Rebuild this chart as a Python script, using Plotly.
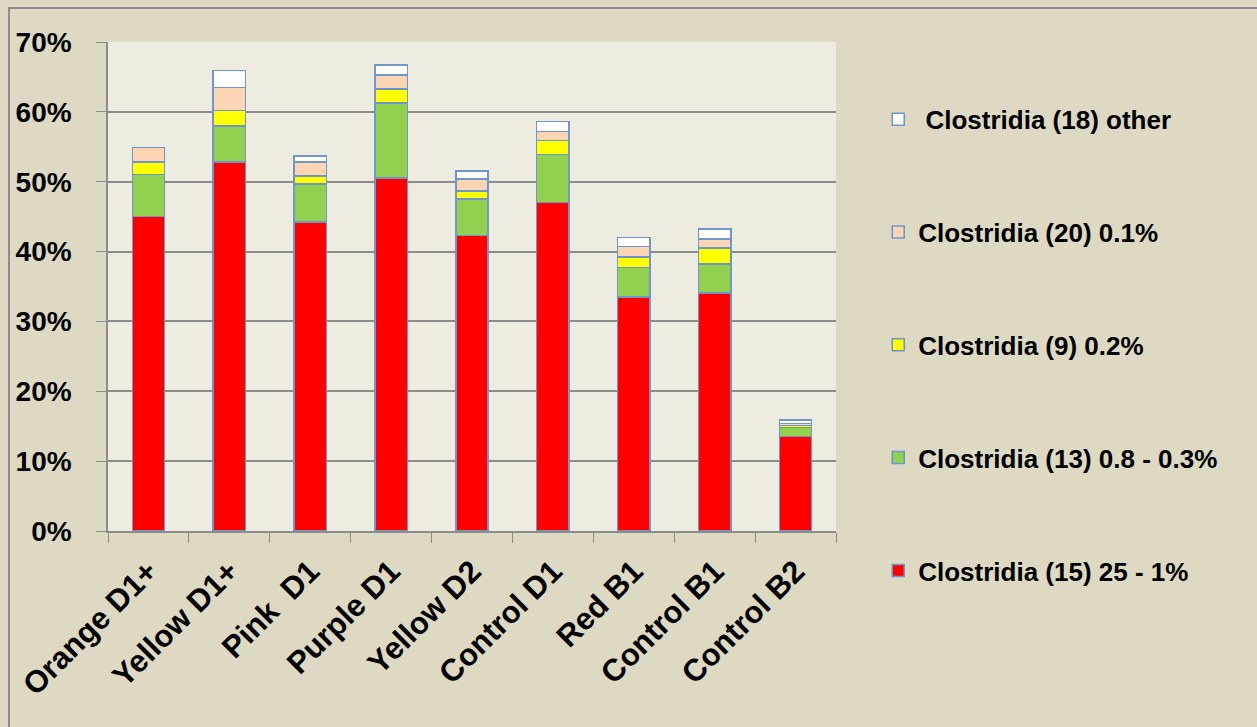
import plotly.graph_objects as go

# samples along the x axis
samples = ["Orange D1+", "Yellow D1+", "Pink  D1", "Purple D1", "Yellow D2",
           "Control D1", "Red B1", "Control B1", "Control B2"]

# stacked segments, % of reads (bottom to top)
clos15 = [45.0, 52.8, 44.2, 50.5, 42.3, 47.0, 33.5, 34.1, 13.5]
clos13 = [6.0, 5.2, 5.5, 10.8, 5.2, 6.9, 4.2, 4.1, 1.3]
clos9 = [1.8, 2.2, 1.1, 2.0, 1.2, 2.0, 1.5, 2.3, 0.3]
clos20 = [2.1, 3.3, 2.0, 2.0, 1.7, 1.3, 1.5, 1.3, 0.3]
clos18 = [0.0, 2.4, 0.9, 1.4, 1.1, 1.4, 1.3, 1.4, 0.5]

series = [
    ("Clostridia (15) 25 - 1%", clos15, "#FF0000"),
    ("Clostridia (13) 0.8 - 0.3%", clos13, "#92D050"),
    ("Clostridia (9) 0.2%", clos9, "#FFFF00"),
    ("Clostridia (20) 0.1%", clos20, "#FCD5B5"),
    ("\u00a0Clostridia (18) other", clos18, "#FFFFFF"),
]

fig = go.Figure()
for i, (name, vals, col) in enumerate(series):
    fig.add_trace(go.Bar(
        x=samples, y=vals, name=name, legendgroup=str(i),
        legendrank=len(series) - i,
        marker=dict(color=col, line=dict(color="#7096C8", width=1.5)),
    ))

FAMILY = "Liberation Sans, Arial, sans-serif"

fig.update_layout(
    barmode="stack",
    bargap=0.6,
    width=1257, height=727,
    margin=dict(l=108, r=421, t=42, b=196),
    paper_bgcolor="#DDD9C3",
    plot_bgcolor="#EEECE1",
    font=dict(family=FAMILY, size=26, color="black", weight="bold"),
    legend=dict(
        traceorder="grouped",
        tracegroupgap=76,
        maxheight=700,
        x=1.058, xanchor="left",
        y=0.89, yanchor="top",
        bgcolor="rgba(0,0,0,0)",
        font=dict(family=FAMILY, size=26, color="black", weight="bold"),
    ),
    xaxis=dict(
        type="category",
        tickangle=-45,
        tickson="boundaries",
        ticks="outside", ticklen=10, tickcolor="#8c8c8c",
        showline=True, linecolor="#8c8c8c", linewidth=1.5,
        showgrid=False,
        tickfont=dict(family=FAMILY, size=31, color="black", weight="bold"),
        ticklabelstandoff=8,
    ),
    yaxis=dict(
        range=[0, 70], dtick=10, ticksuffix="%",
        ticks="outside", ticklen=10, tickcolor="#8c8c8c",
        showline=True, linecolor="#8c8c8c", linewidth=1.5,
        showgrid=True, gridcolor="#8c8c8c", gridwidth=1.5,
        zeroline=False,
        tickfont=dict(family=FAMILY, size=28, color="black", weight="bold"),
        ticklabelstandoff=19,
    ),
    shapes=[dict(
        type="rect", xref="paper", yref="paper",
        x0=-0.136, x1=2.0, y0=-2.0, y1=1.0695,
        line=dict(color="#8c8c8c", width=2), layer="above",
    )],
)

fig.write_html("out.html", config={"displayModeBar": False},
               post_script="document.body.style.margin='0';")
